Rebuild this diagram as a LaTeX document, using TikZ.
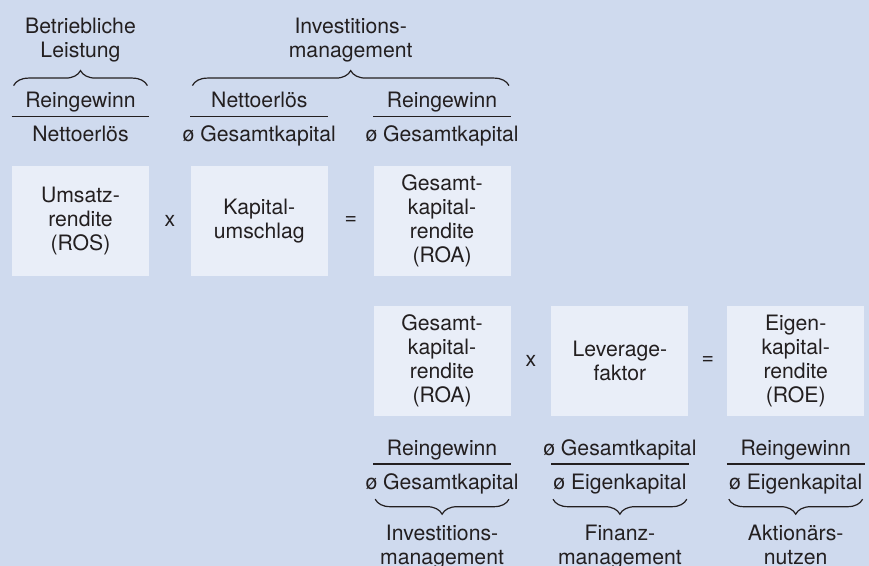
\documentclass[tikz,border=0pt]{standalone}
\usepackage{fontspec}
\setmainfont{TeX Gyre Heros}
\usepackage{tikz}
\usepackage{xcolor}
\usetikzlibrary{positioning, decorations.pathreplacing}

\definecolor{grund}{RGB}{207,218,238}
\definecolor{kasten}{RGB}{233,238,248}
\definecolor{schrift}{RGB}{35,31,32}

\tikzstyle{kennzahl} = [rectangle, 
minimum width=68.5pt, 
minimum height=55pt, 
text centered, 
align=center, 
fill=kasten]
\tikzstyle{term} = [inner sep=0pt, anchor=base]
\tikzstyle{bruchstrich} = [line width=0.75pt]
\tikzstyle{klammer} = [decorate, decoration={brace, amplitude=7.5pt}, line width=0.6pt]
\tikzstyle{klammerunten} = [decorate, decoration={brace, mirror, amplitude=7.5pt}, line width=0.6pt]
\tikzstyle{titel} = [align=center, inner sep=0pt]

\begin{document}
\begin{tikzpicture}[x=0.5pt, y=-0.5pt, node distance=20.5pt, color=schrift,
  font=\fontsize{10.6}{12}\selectfont]

        \path [use as bounding box, fill=grund] (0,0) rectangle (869,566);

        % --- Kennzahlen ---
        \node (ros) [kennzahl] at (80.5,221) {Umsatz-\\rendite\\(ROS)};
        \node (umschlag) [kennzahl, right=of ros] {Kapital-\\umschlag};
        \node (roa) [kennzahl, right=22.5pt of umschlag] {Gesamt-\\kapital-\\rendite\\(ROA)};
        \node (roa2) [kennzahl, below=14.5pt of roa] {Gesamt-\\kapital-\\rendite\\(ROA)};
        \node (leverage) [kennzahl, right=20pt of roa2] {Leverage-\\faktor};
        \node (roe) [kennzahl, right=19pt of leverage] {Eigen-\\kapital-\\rendite\\(ROE)};

        % --- Operatoren ---
        \path (ros) -- node (mal1) {x} (umschlag);
        \path (umschlag) -- node (gleich1) {=} (roa);
        \path (roa2) -- node (mal2) {x} (leverage);
        \path (leverage) -- node (gleich2) {=} (roe);

        % --- Brüche oben ---
        \draw [bruchstrich] ([yshift=24.5pt]ros.north west) -- ([yshift=24.5pt]ros.north east);
        \node (z1) [term] at ([yshift=29pt]ros.north) {Reingewinn};
        \node (n1) [term] at ([yshift=12pt]ros.north) {Nettoerlös};

        \draw [bruchstrich] ([yshift=24.5pt]umschlag.north west) -- ([yshift=24.5pt]umschlag.north east);
        \node (z2) [term] at ([yshift=29pt]umschlag.north) {Nettoerlös};
        \node (n2) [term] at ([yshift=12pt]umschlag.north) {ø Gesamtkapital};

        \draw [bruchstrich] ([yshift=24.5pt]roa.north west) -- ([yshift=24.5pt]roa.north east);
        \node (z3) [term] at ([yshift=29pt]roa.north) {Reingewinn};
        \node (n3) [term] at ([yshift=12pt]roa.north) {ø Gesamtkapital};

        % --- Brüche unten ---
        \draw [bruchstrich] ([yshift=-24pt]roa2.south west) -- ([yshift=-24pt]roa2.south east);
        \node (z4) [term] at ([yshift=-19.5pt]roa2.south) {Reingewinn};
        \node (n4) [term] at ([yshift=-36.5pt]roa2.south) {ø Gesamtkapital};

        \draw [bruchstrich] ([yshift=-24pt]leverage.south west) -- ([yshift=-24pt]leverage.south east);
        \node (z5) [term] at ([yshift=-19.5pt]leverage.south) {ø Gesamtkapital};
        \node (n5) [term] at ([yshift=-36.5pt]leverage.south) {ø Eigenkapital};

        \draw [bruchstrich] ([yshift=-24pt]roe.south west) -- ([yshift=-24pt]roe.south east);
        \node (z6) [term] at ([yshift=-19.5pt]roe.south) {Reingewinn};
        \node (n6) [term] at ([yshift=-36.5pt]roe.south) {ø Eigenkapital};

        % --- Klammern mit Bedeutung ---
        \draw [klammer] ([xshift=1pt, yshift=40pt]ros.north west) -- node (leistung) [titel, above=11.5pt] {Betriebliche\\Leistung} ([xshift=-1pt, yshift=40pt]ros.north east);
        \draw [klammer] ([xshift=1pt, yshift=40pt]umschlag.north west) -- node (invest1) [titel, above=11.5pt] {Investitions-\\management} ([xshift=-1pt, yshift=40pt]roa.north east);

        \draw [klammerunten] ([xshift=1pt, yshift=-41.5pt]roa2.south west) -- node (invest2) [titel, below=12.5pt] {Investitions-\\management} ([xshift=-1pt, yshift=-41.5pt]roa2.south east);
        \draw [klammerunten] ([xshift=1pt, yshift=-41.5pt]leverage.south west) -- node (finanz) [titel, below=12.5pt] {Finanz-\\management} ([xshift=-1pt, yshift=-41.5pt]leverage.south east);
        \draw [klammerunten] ([xshift=1pt, yshift=-41.5pt]roe.south west) -- node (aktionaer) [titel, below=12.5pt] {Aktionärs-\\nutzen} ([xshift=-1pt, yshift=-41.5pt]roe.south east);

\end{tikzpicture}
\end{document}
